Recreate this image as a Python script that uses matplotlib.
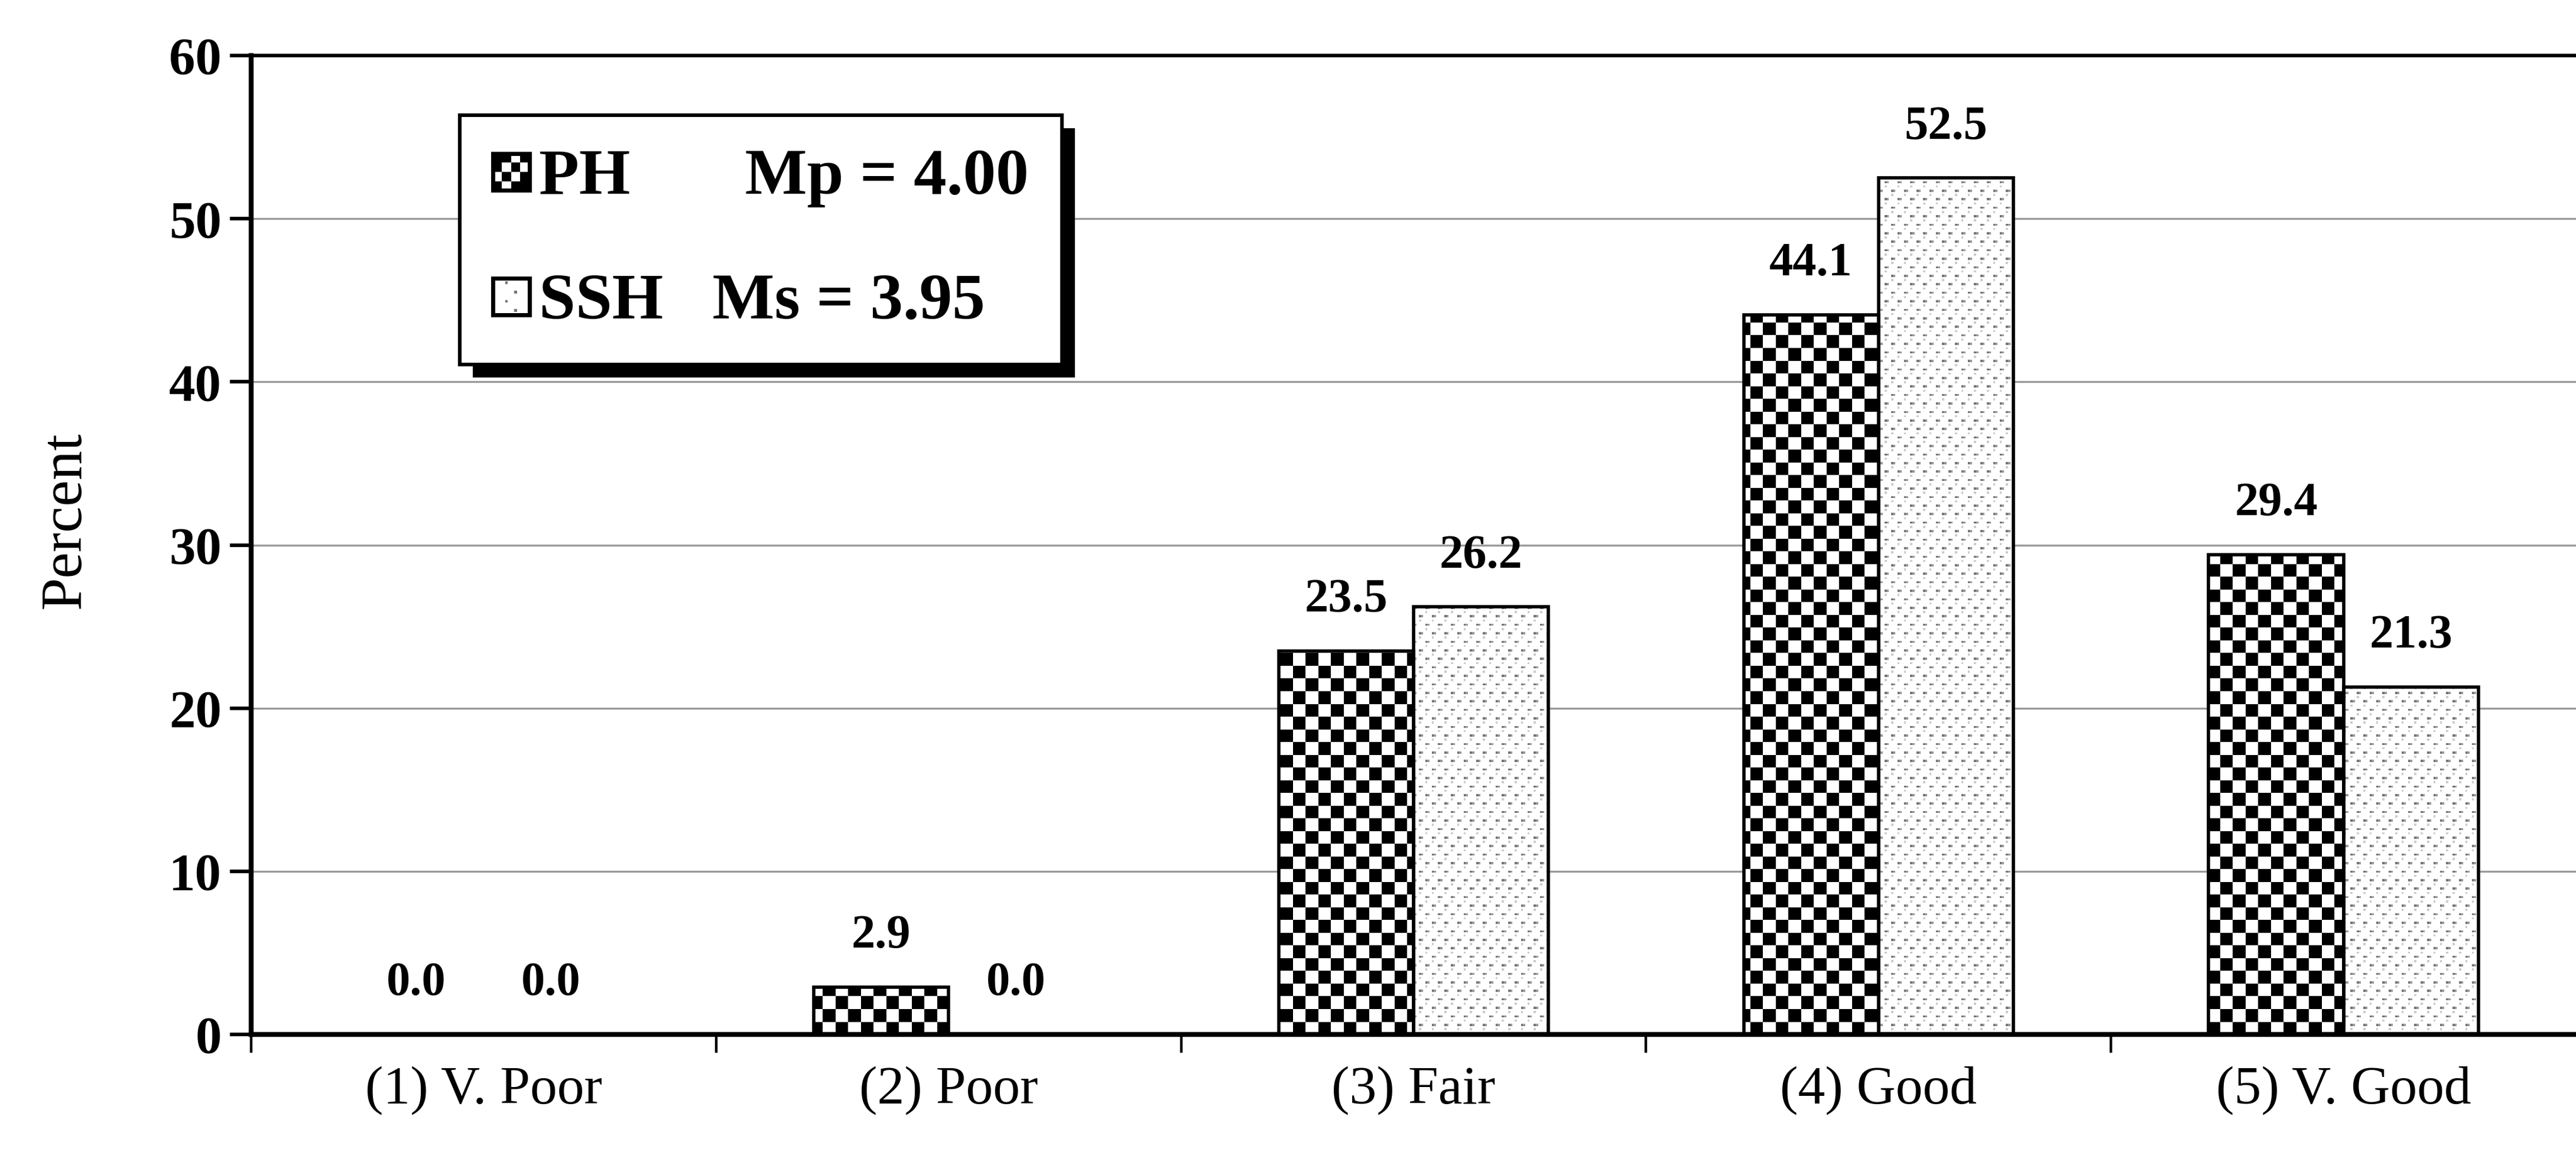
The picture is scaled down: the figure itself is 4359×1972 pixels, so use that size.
import numpy as np
import matplotlib
matplotlib.use("Agg")
import matplotlib.pyplot as plt
from matplotlib.patches import Patch, Rectangle
from matplotlib.path import Path
from matplotlib.legend_handler import HandlerBase

# ---- data ----
categories = ["(1) V. Poor", "(2) Poor", "(3) Fair", "(4) Good", "(5) V. Good"]
ph_values = [0.0, 2.9, 23.5, 44.1, 29.4]
ssh_values = [0.0, 0.0, 26.2, 52.5, 21.3]
series_labels = ["PH       Mp = 4.00", "SSH   Ms = 3.95"]
y_ticks = [0, 10, 20, 30, 40, 50, 60]

plt.rcParams["font.family"] = ["Liberation Serif", "DejaVu Serif"]

DPI = 200
fig = plt.figure(figsize=(4359 / DPI, 1972 / DPI), dpi=DPI)
fig.patch.set_facecolor("white")
ax = fig.add_axes([425 / 4359, 1 - 1751 / 1972, 1 - 425 / 4359, (1751 - 94) / 1972])

x = np.arange(len(categories))
bw = 0.29
XMIN, XMAX, YMIN, YMAX = -0.5, len(categories) - 0.5, 0, 60

ph_bars = ax.bar(x - bw / 2, ph_values, bw, facecolor="none", edgecolor="black",
                 linewidth=2.0, zorder=3)
ssh_bars = ax.bar(x + bw / 2, ssh_values, bw, facecolor="none", edgecolor="black",
                  linewidth=2.0, zorder=3)

# ---- fill patterns (checkerboard for PH, stippled dots for SSH) ----
ax_w_px = fig.get_figwidth() * DPI * ax.get_position().width
ax_h_px = fig.get_figheight() * DPI * ax.get_position().height

cell = 21.5
nr, nc = int(round(ax_h_px / cell)), int(round(ax_w_px / cell))
r, c = np.indices((nr, nc))
checker = ((r + c) % 2).astype(float)  # 0 black, 1 white

p = 3.6
nr2, nc2 = int(round(ax_h_px / p)), int(round(ax_w_px / p))
r2, c2 = np.indices((nr2, nc2))
dots = np.ones((nr2, nc2))
main = ((r2 % 8 == 0) & (c2 % 6 == 0)) | ((r2 % 8 == 4) & (c2 % 6 == 3))
dots[main] = 0.45
dots[np.roll(main, 1, axis=1)] = 0.6
dots[((r2 % 8 == 2) & (c2 % 6 == 3)) | ((r2 % 8 == 6) & (c2 % 6 == 0))] = 0.8


def bars_clip_path(bars):
    paths = []
    for b in bars:
        x0, y0 = b.get_x(), b.get_y()
        w, h = b.get_width(), b.get_height()
        paths.append(Path([(x0, y0), (x0 + w, y0), (x0 + w, y0 + h), (x0, y0 + h), (x0, y0)],
                          [Path.MOVETO, Path.LINETO, Path.LINETO, Path.LINETO, Path.CLOSEPOLY]))
    return Path.make_compound_path(*paths)


for arr, bars in ((checker, ph_bars), (dots, ssh_bars)):
    im = ax.imshow(arr, cmap="gray", vmin=0, vmax=1, extent=(XMIN, XMAX, YMIN, YMAX),
                   origin="lower", aspect="auto", interpolation="nearest", zorder=2)
    im.set_clip_path(bars_clip_path(bars), ax.transData)

ax.set_xlim(XMIN, XMAX)
ax.set_ylim(YMIN, YMAX)

# ---- value labels ----
for bars, vals in ((ph_bars, ph_values), (ssh_bars, ssh_values)):
    for b, v in zip(bars, vals):
        ax.annotate(f"{v:.1f}", (b.get_x() + b.get_width() / 2, v), xytext=(0, 31),
                    textcoords="offset points", ha="center", va="center",
                    fontsize=29, fontweight="bold", zorder=4)

# ---- axes styling ----
ax.set_yticks(y_ticks)
ax.set_yticklabels([str(t) for t in y_ticks], fontsize=32, fontweight="bold")
ax.tick_params(axis="y", direction="out", length=13, width=2.2, pad=5)

ax.set_xticks(np.arange(XMIN, XMAX, 1.0))
ax.set_xticklabels([])
ax.tick_params(axis="x", which="major", direction="out", length=11, width=1.6)
ax.set_xticks(x, minor=True)
ax.set_xticklabels(categories, minor=True, fontsize=33)
ax.tick_params(axis="x", which="minor", length=0, pad=19)

ax.yaxis.grid(True, color="#9a9a9a", linewidth=1.2)
ax.set_axisbelow(True)

ax.spines["left"].set_linewidth(3.0)
ax.spines["bottom"].set_linewidth(3.0)
ax.spines["top"].set_linewidth(2.2)
ax.spines["right"].set_visible(False)

fig.text(111 / 4359, 1 - 881 / 1972, "Percent", rotation=90, ha="center", va="center",
         fontsize=36)


# ---- legend ----
class PatternHandler(HandlerBase):
    def __init__(self, kind):
        super().__init__()
        self.kind = kind

    def create_artists(self, legend, orig_handle, xdescent, ydescent, width, height,
                       fontsize, trans):
        x0, y0 = -xdescent, -ydescent
        side = min(width, height)
        artists = [Rectangle((x0, y0), side, side, facecolor="white", edgecolor="black",
                             linewidth=2.0, transform=trans)]
        n = 4
        s = side / n
        for i in range(n):
            for j in range(n):
                if self.kind == "checker":
                    if (i + j) % 2 == 0 or i in (0, n - 1) and j in (0, n - 1):
                        artists.append(Rectangle((x0 + i * s, y0 + j * s), s, s,
                                                 facecolor="black", edgecolor="none",
                                                 transform=trans))
                elif (i + j) % 2 == 0 and 0 < i < n - 1:
                    artists.append(Rectangle((x0 + (i + 0.35) * s, y0 + (j + 0.35) * s),
                                             0.3 * s, 0.3 * s, facecolor="#777777",
                                             edgecolor="none", transform=trans))
        artists.append(Rectangle((x0, y0), side, side, facecolor="none", edgecolor="black",
                                 linewidth=2.5, transform=trans))
        return artists


h_ph = Patch(facecolor="black", edgecolor="black")
h_ssh = Patch(facecolor="white", edgecolor="black")
leg = ax.legend([h_ph, h_ssh], series_labels,
                handler_map={h_ph: PatternHandler("checker"), h_ssh: PatternHandler("dots")},
                loc="upper left", bbox_to_anchor=((778 - 425) / 3934, (1751 - 195) / 1657),
                borderaxespad=0, fancybox=False, framealpha=1, edgecolor="black",
                prop={"family": "Liberation Serif", "weight": "bold", "size": 40},
                handlelength=0.56, handleheight=0.56, handletextpad=0.15,
                labelspacing=1.0, borderpad=0.5)
leg.get_frame().set_linewidth(2.2)
leg.set_zorder(6)

# drop shadow behind the legend box
fig.canvas.draw()
bb = leg.get_window_extent(fig.canvas.get_renderer())
inv = ax.transAxes.inverted()
(sx0, sy0), (sx1, sy1) = inv.transform([(bb.x0 + 22, bb.y0 - 22), (bb.x1 + 22, bb.y1 - 22)])
ax.add_patch(Rectangle((sx0, sy0), sx1 - sx0, sy1 - sy0, transform=ax.transAxes,
                       facecolor="black", edgecolor="none", zorder=5.5, clip_on=False))

fig.savefig("out.png", dpi=DPI, facecolor="white")
